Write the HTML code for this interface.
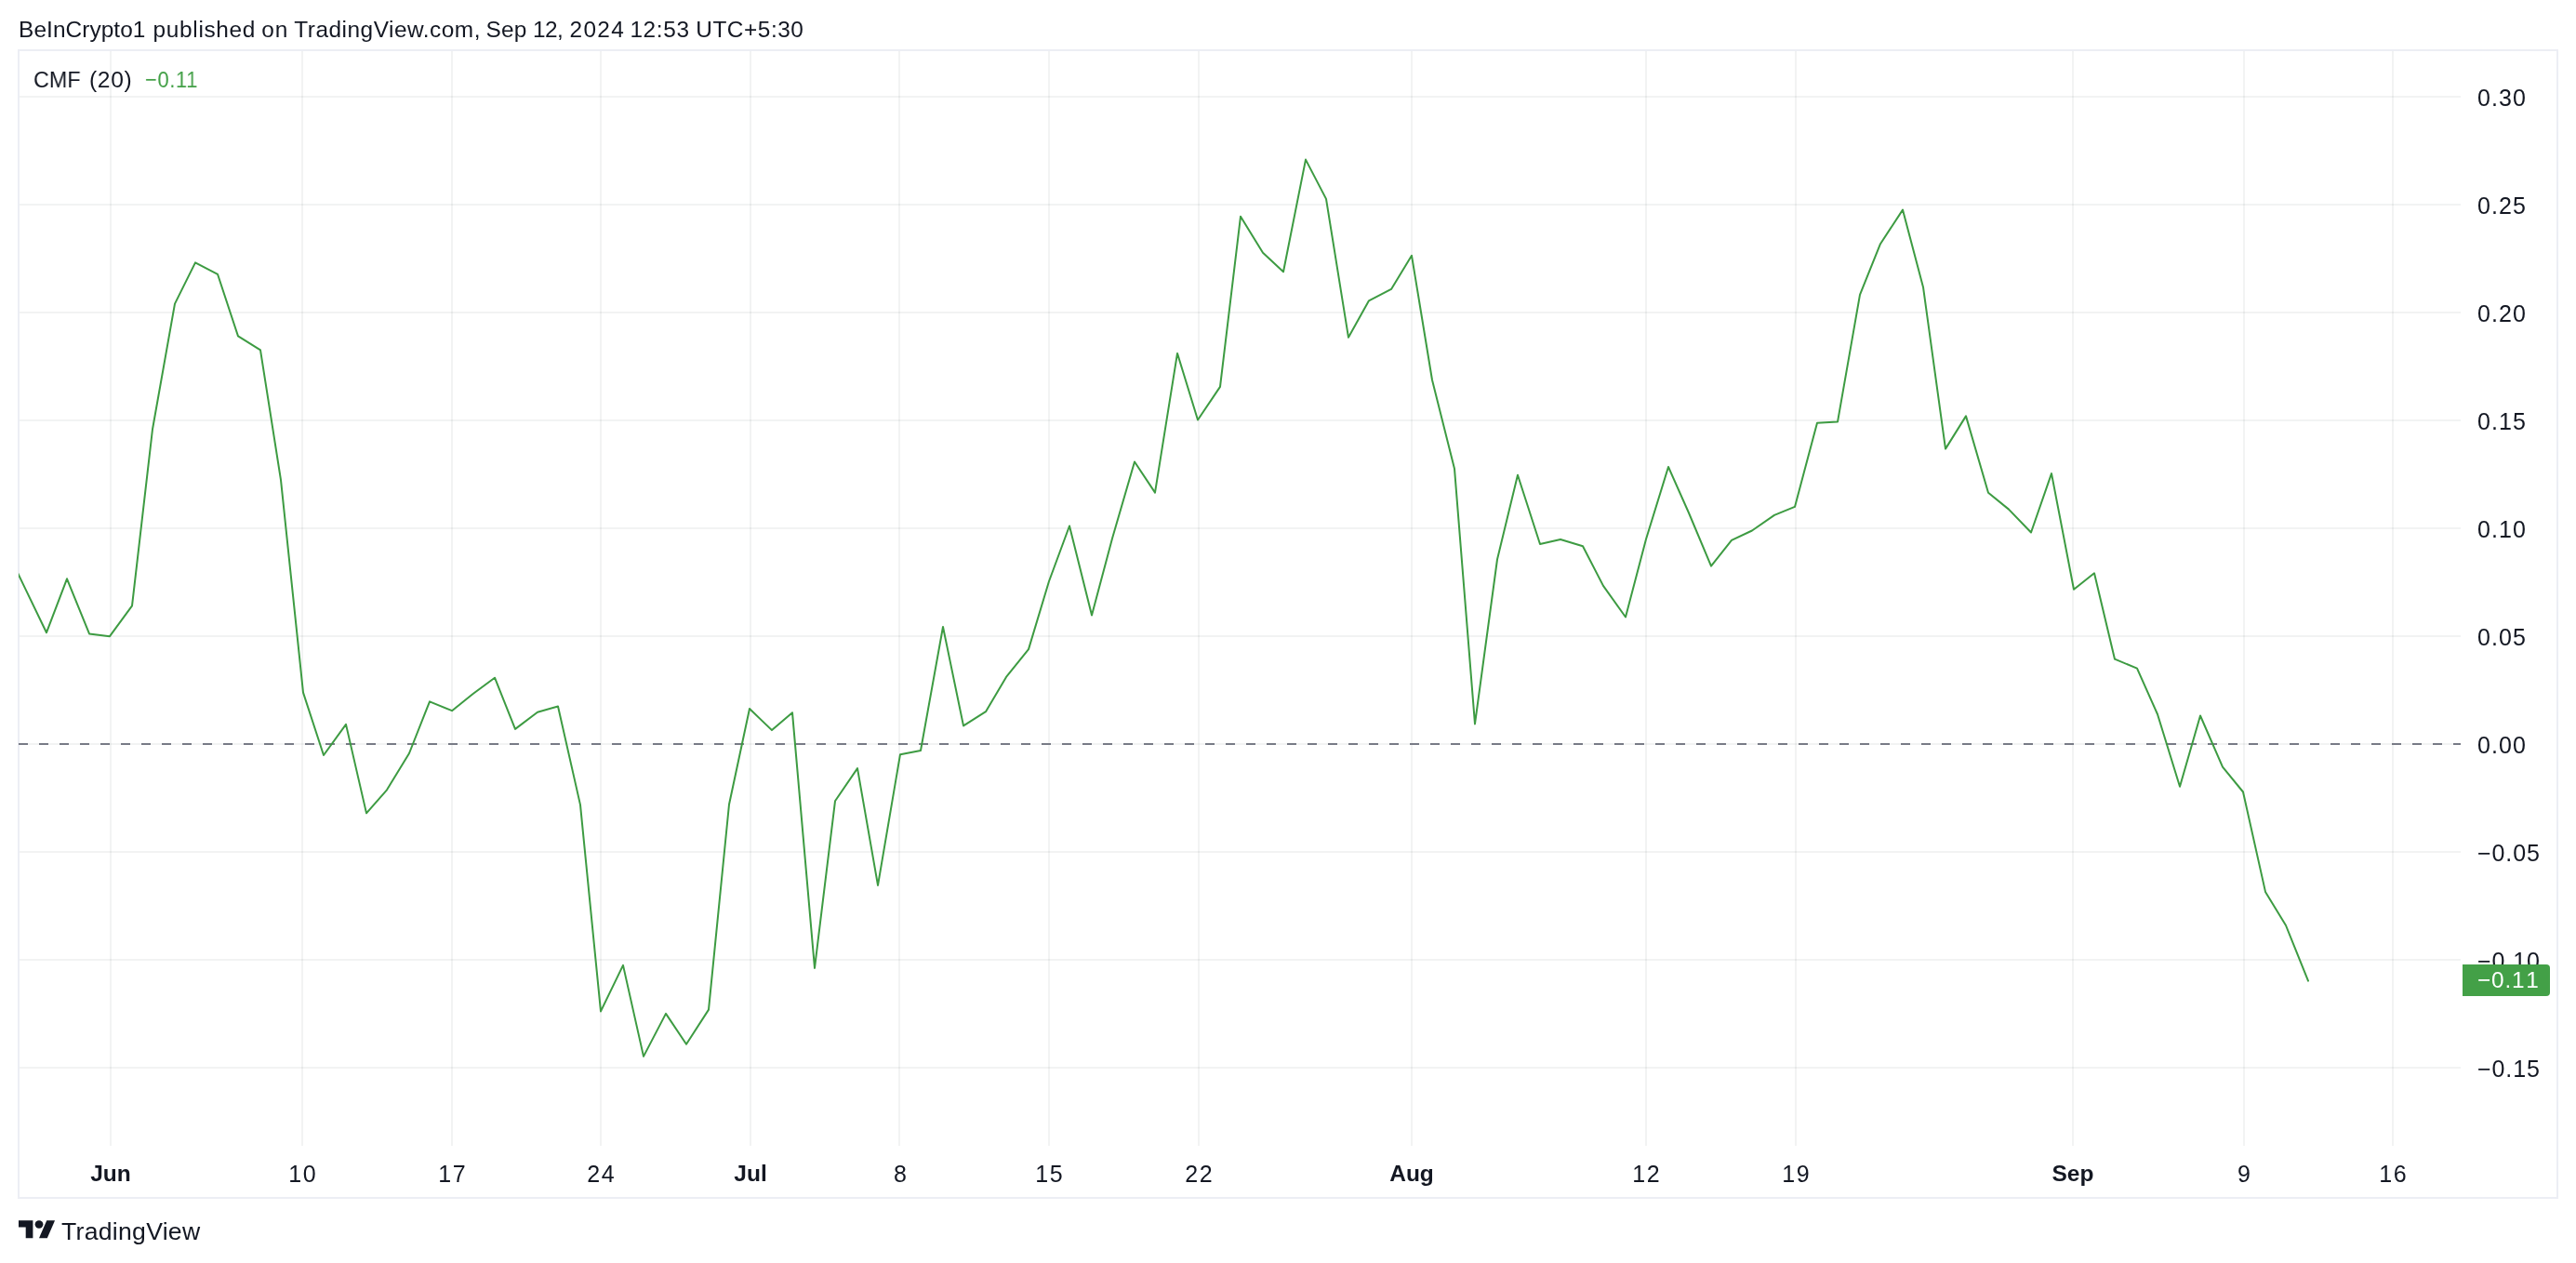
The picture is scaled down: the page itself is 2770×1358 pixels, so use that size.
<!DOCTYPE html>
<html lang="en">
<head>
<meta charset="utf-8">
<title>CMF (20) - TradingView</title>
<style>
html,body{margin:0;padding:0;background:#ffffff;}
body{width:2770px;height:1358px;position:relative;overflow:hidden;font-family:"Liberation Sans",sans-serif;color:#131722;}
.t{position:absolute;white-space:nowrap;line-height:30px;height:30px;font-size:25px;will-change:transform;}
.title{left:0;top:16.6px;font-size:24.4px;width:900px;}
.title span{position:absolute;top:0;}
.frame{position:absolute;left:19px;top:53px;width:2728px;height:1232px;border:2px solid #eceef4;}
.plot{position:absolute;left:0;top:0;}
.lg{top:70.7px;font-size:24.6px;transform-origin:0 50%;}
.lg1{left:35.9px;transform:scaleX(0.95);}
.lg2{left:96px;letter-spacing:0.65px;}
.lg3{left:155.7px;color:#43a047;letter-spacing:0.8px;transform:scaleX(0.885);}
.pl{left:2664.3px;letter-spacing:1.1px;transform:translateY(-0.5px);}
.pl.n{letter-spacing:0.9px;}
.tl{width:120px;text-align:center;top:1246.6px;letter-spacing:1.7px;text-indent:1.7px;transform:translateY(-0.5px);}
.tl.b{font-weight:bold;font-size:24.5px;letter-spacing:0;text-indent:0;}
.badge{position:absolute;left:2648px;top:1037px;width:94px;height:34px;background:#43a047;border-radius:0 4px 4px 0;}
.badge .t{left:16.2px;top:2.0px;color:#ffffff;letter-spacing:0.8px;font-size:24.4px;}
.badge .t i{font-style:normal;margin-left:0.9px;}
.logo{position:absolute;left:20.1px;top:1308px;}
.brand{left:66px;top:1307.5px;font-size:26.6px;line-height:32px;height:32px;letter-spacing:0.28px;}
</style>
</head>
<body>
<div class="t title"><span style="left:20.07px;letter-spacing:0.071px">BeInCrypto1</span> <span style="left:164.55px;letter-spacing:0.681px">published</span> <span style="left:281.30px;letter-spacing:0.900px">on</span> <span style="left:316.36px;letter-spacing:0.504px">TradingView.com,</span> <span style="left:522.52px;letter-spacing:0.199px">Sep</span> <span style="left:573.08px;letter-spacing:-0.591px">12,</span> <span style="left:612.49px;letter-spacing:1.358px">2024</span> <span style="left:677.38px;letter-spacing:0.679px">12:53</span> <span style="left:748.27px;letter-spacing:0.547px">UTC+5:30</span></div>
<div class="frame"></div>

<svg class="plot" width="2770" height="1358" viewBox="0 0 2770 1358">
<defs><clipPath id="pane"><rect x="20" y="55" width="2626" height="1177"/></clipPath></defs>
<g shape-rendering="crispEdges" fill="#283232" fill-opacity="0.058">
<rect x="118" y="55" width="2" height="1177"/>
<rect x="324" y="55" width="2" height="1177"/>
<rect x="485" y="55" width="2" height="1177"/>
<rect x="645" y="55" width="2" height="1177"/>
<rect x="806" y="55" width="2" height="1177"/>
<rect x="966" y="55" width="2" height="1177"/>
<rect x="1127" y="55" width="2" height="1177"/>
<rect x="1288" y="55" width="2" height="1177"/>
<rect x="1517" y="55" width="2" height="1177"/>
<rect x="1769" y="55" width="2" height="1177"/>
<rect x="1930" y="55" width="2" height="1177"/>
<rect x="2228" y="55" width="2" height="1177"/>
<rect x="2412" y="55" width="2" height="1177"/>
<rect x="2572" y="55" width="2" height="1177"/>
<rect x="21" y="103" width="2625" height="2"/>
<rect x="21" y="219" width="2625" height="2"/>
<rect x="21" y="335" width="2625" height="2"/>
<rect x="21" y="451" width="2625" height="2"/>
<rect x="21" y="567" width="2625" height="2"/>
<rect x="21" y="683" width="2625" height="2"/>
<rect x="21" y="799" width="2625" height="2"/>
<rect x="21" y="915" width="2625" height="2"/>
<rect x="21" y="1031" width="2625" height="2"/>
<rect x="21" y="1147" width="2625" height="2"/>
</g>
<g shape-rendering="crispEdges" fill="#787b86">
<rect x="20" y="799" width="10" height="2"/>
<rect x="42" y="799" width="10" height="2"/>
<rect x="64" y="799" width="10" height="2"/>
<rect x="86" y="799" width="10" height="2"/>
<rect x="108" y="799" width="10" height="2"/>
<rect x="130" y="799" width="10" height="2"/>
<rect x="152" y="799" width="10" height="2"/>
<rect x="174" y="799" width="10" height="2"/>
<rect x="196" y="799" width="10" height="2"/>
<rect x="218" y="799" width="10" height="2"/>
<rect x="240" y="799" width="10" height="2"/>
<rect x="262" y="799" width="10" height="2"/>
<rect x="284" y="799" width="10" height="2"/>
<rect x="306" y="799" width="10" height="2"/>
<rect x="328" y="799" width="10" height="2"/>
<rect x="350" y="799" width="10" height="2"/>
<rect x="372" y="799" width="10" height="2"/>
<rect x="394" y="799" width="10" height="2"/>
<rect x="416" y="799" width="10" height="2"/>
<rect x="438" y="799" width="10" height="2"/>
<rect x="460" y="799" width="10" height="2"/>
<rect x="482" y="799" width="10" height="2"/>
<rect x="504" y="799" width="10" height="2"/>
<rect x="526" y="799" width="10" height="2"/>
<rect x="548" y="799" width="10" height="2"/>
<rect x="570" y="799" width="10" height="2"/>
<rect x="592" y="799" width="10" height="2"/>
<rect x="614" y="799" width="10" height="2"/>
<rect x="636" y="799" width="10" height="2"/>
<rect x="658" y="799" width="10" height="2"/>
<rect x="680" y="799" width="10" height="2"/>
<rect x="702" y="799" width="10" height="2"/>
<rect x="724" y="799" width="10" height="2"/>
<rect x="746" y="799" width="10" height="2"/>
<rect x="768" y="799" width="10" height="2"/>
<rect x="790" y="799" width="10" height="2"/>
<rect x="812" y="799" width="10" height="2"/>
<rect x="834" y="799" width="10" height="2"/>
<rect x="856" y="799" width="10" height="2"/>
<rect x="878" y="799" width="10" height="2"/>
<rect x="900" y="799" width="10" height="2"/>
<rect x="922" y="799" width="10" height="2"/>
<rect x="944" y="799" width="10" height="2"/>
<rect x="966" y="799" width="10" height="2"/>
<rect x="988" y="799" width="10" height="2"/>
<rect x="1010" y="799" width="10" height="2"/>
<rect x="1032" y="799" width="10" height="2"/>
<rect x="1054" y="799" width="10" height="2"/>
<rect x="1076" y="799" width="10" height="2"/>
<rect x="1098" y="799" width="10" height="2"/>
<rect x="1120" y="799" width="10" height="2"/>
<rect x="1142" y="799" width="10" height="2"/>
<rect x="1164" y="799" width="10" height="2"/>
<rect x="1186" y="799" width="10" height="2"/>
<rect x="1208" y="799" width="10" height="2"/>
<rect x="1230" y="799" width="10" height="2"/>
<rect x="1252" y="799" width="10" height="2"/>
<rect x="1274" y="799" width="10" height="2"/>
<rect x="1296" y="799" width="10" height="2"/>
<rect x="1318" y="799" width="10" height="2"/>
<rect x="1340" y="799" width="10" height="2"/>
<rect x="1362" y="799" width="10" height="2"/>
<rect x="1384" y="799" width="10" height="2"/>
<rect x="1406" y="799" width="10" height="2"/>
<rect x="1428" y="799" width="10" height="2"/>
<rect x="1450" y="799" width="10" height="2"/>
<rect x="1472" y="799" width="10" height="2"/>
<rect x="1494" y="799" width="10" height="2"/>
<rect x="1516" y="799" width="10" height="2"/>
<rect x="1538" y="799" width="10" height="2"/>
<rect x="1560" y="799" width="10" height="2"/>
<rect x="1582" y="799" width="10" height="2"/>
<rect x="1604" y="799" width="10" height="2"/>
<rect x="1626" y="799" width="10" height="2"/>
<rect x="1648" y="799" width="10" height="2"/>
<rect x="1670" y="799" width="10" height="2"/>
<rect x="1692" y="799" width="10" height="2"/>
<rect x="1714" y="799" width="10" height="2"/>
<rect x="1736" y="799" width="10" height="2"/>
<rect x="1758" y="799" width="10" height="2"/>
<rect x="1780" y="799" width="10" height="2"/>
<rect x="1802" y="799" width="10" height="2"/>
<rect x="1824" y="799" width="10" height="2"/>
<rect x="1846" y="799" width="10" height="2"/>
<rect x="1868" y="799" width="10" height="2"/>
<rect x="1890" y="799" width="10" height="2"/>
<rect x="1912" y="799" width="10" height="2"/>
<rect x="1934" y="799" width="10" height="2"/>
<rect x="1956" y="799" width="10" height="2"/>
<rect x="1978" y="799" width="10" height="2"/>
<rect x="2000" y="799" width="10" height="2"/>
<rect x="2022" y="799" width="10" height="2"/>
<rect x="2044" y="799" width="10" height="2"/>
<rect x="2066" y="799" width="10" height="2"/>
<rect x="2088" y="799" width="10" height="2"/>
<rect x="2110" y="799" width="10" height="2"/>
<rect x="2132" y="799" width="10" height="2"/>
<rect x="2154" y="799" width="10" height="2"/>
<rect x="2176" y="799" width="10" height="2"/>
<rect x="2198" y="799" width="10" height="2"/>
<rect x="2220" y="799" width="10" height="2"/>
<rect x="2242" y="799" width="10" height="2"/>
<rect x="2264" y="799" width="10" height="2"/>
<rect x="2286" y="799" width="10" height="2"/>
<rect x="2308" y="799" width="10" height="2"/>
<rect x="2330" y="799" width="10" height="2"/>
<rect x="2352" y="799" width="10" height="2"/>
<rect x="2374" y="799" width="10" height="2"/>
<rect x="2396" y="799" width="10" height="2"/>
<rect x="2418" y="799" width="10" height="2"/>
<rect x="2440" y="799" width="10" height="2"/>
<rect x="2462" y="799" width="10" height="2"/>
<rect x="2484" y="799" width="10" height="2"/>
<rect x="2506" y="799" width="10" height="2"/>
<rect x="2528" y="799" width="10" height="2"/>
<rect x="2550" y="799" width="10" height="2"/>
<rect x="2572" y="799" width="10" height="2"/>
<rect x="2594" y="799" width="10" height="2"/>
<rect x="2616" y="799" width="10" height="2"/>
<rect x="2638" y="799" width="8" height="2"/>
</g>
<polyline clip-path="url(#pane)" fill="none" stroke="#3d9b42" stroke-width="2" stroke-linejoin="round" stroke-linecap="round" points="4,584.7 28,634.6 50,680.2 72,622.3 96,681.4 118,684.2 142,651.4 164,461.5 188,326.6 210,282.4 234,294.8 256,361.4 280,376.4 302,516.1 326,744.6 348,812.0 372,778.9 394,874.4 416,849.3 440,810.0 462,754.3 486,764.2 508,746.5 532,728.7 554,783.9 578,765.7 600,759.5 624,865.4 646,1087.4 670,1037.9 692,1135.9 716,1089.9 738,1122.7 762,1085.6 784,865.0 806,762.0 830,785.1 852,766.2 876,1040.9 898,861.3 922,826.1 944,951.9 968,811.2 990,807.0 1014,674.0 1036,780.4 1060,765.2 1082,727.9 1106,698.1 1128,625.0 1150,565.5 1174,661.6 1196,579.0 1220,496.5 1242,529.6 1266,379.9 1288,451.5 1312,415.9 1334,232.8 1358,271.8 1380,292.2 1404,171.6 1426,213.9 1450,362.8 1472,323.3 1496,310.9 1518,274.8 1540,408.5 1564,503.9 1586,778.4 1610,601.5 1632,510.7 1656,585.0 1678,580.0 1702,587.3 1724,629.9 1748,663.5 1770,579.8 1794,502.0 1816,551.5 1840,608.6 1862,580.8 1884,570.5 1908,553.9 1930,544.9 1954,454.8 1976,453.6 2000,316.9 2022,262.2 2046,225.6 2068,308.7 2092,482.6 2114,447.4 2138,529.7 2160,547.6 2184,572.5 2206,509.1 2230,633.7 2252,616.3 2274,708.7 2298,718.7 2320,768.0 2344,845.8 2366,769.5 2390,824.6 2412,851.5 2436,958.9 2458,995.0 2482,1054.6"/>
</svg>
<div class="t lg lg1">CMF</div><div class="t lg lg2">(20)</div><div class="t lg lg3">−0.11</div>
<div class="t pl" style="top:90.0px">0.30</div>
<div class="t pl" style="top:205.9px">0.25</div>
<div class="t pl" style="top:321.9px">0.20</div>
<div class="t pl" style="top:437.9px">0.15</div>
<div class="t pl" style="top:554.0px">0.10</div>
<div class="t pl" style="top:670.0px">0.05</div>
<div class="t pl" style="top:786.0px">0.00</div>
<div class="t pl n" style="top:902.0px">−0.05</div>
<div class="t pl n" style="top:1018.0px">−0.10</div>
<div class="t pl n" style="top:1134.0px">−0.15</div>
<div class="badge"><div class="t">−0.1<i>1</i></div></div>
<div class="t tl b" style="left:58.8px">Jun</div>
<div class="t tl" style="left:265.2px">10</div>
<div class="t tl" style="left:425.8px">17</div>
<div class="t tl" style="left:586.3px">24</div>
<div class="t tl b" style="left:746.9px">Jul</div>
<div class="t tl" style="left:907.5px">8</div>
<div class="t tl" style="left:1068.0px">15</div>
<div class="t tl" style="left:1228.6px">22</div>
<div class="t tl b" style="left:1458.0px">Aug</div>
<div class="t tl" style="left:1710.3px">12</div>
<div class="t tl" style="left:1870.8px">19</div>
<div class="t tl b" style="left:2169.0px">Sep</div>
<div class="t tl" style="left:2352.5px">9</div>
<div class="t tl" style="left:2513.1px">16</div>
<svg class="logo" width="39.6" height="29.56" viewBox="0 0 36 28" preserveAspectRatio="none"><path d="M14 22H7V11H0V4h14v18z" fill="#131722"/><circle cx="20" cy="8" r="4" fill="#131722"/><path d="M28 22h-8l7.5-18h8L28 22z" fill="#131722"/></svg>
<div class="t brand">TradingView</div>
</body>
</html>
